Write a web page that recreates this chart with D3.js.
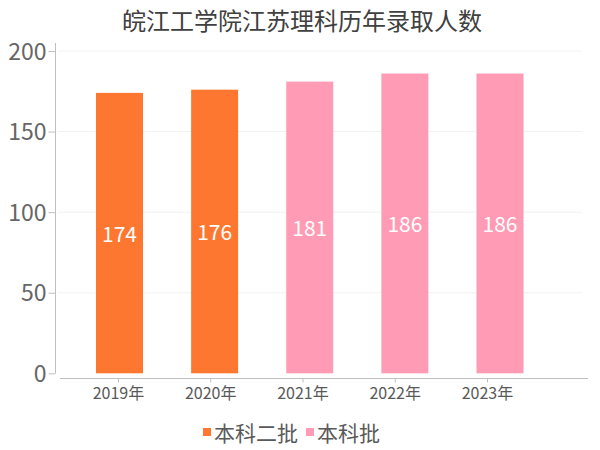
<!DOCTYPE html>
<html><head><meta charset="utf-8">
<script src="https://cdn.jsdelivr.net/npm/d3@7"></script>
<style>body{margin:0;background:#fff}svg{display:block}</style>
</head><body>
<svg id="c" width="600" height="450"></svg>
<script>
const title = "皖江工学院江苏理科历年录取人数";
const years = ["2019年","2020年","2021年","2022年","2023年"];
const batches = ["本科二批","本科二批","本科批","本科批","本科批"];
const values = [174, 176, 181, 186, 186];
const seriesNames = ["本科二批","本科批"];
const seriesColors = ["#FE7731","#FF9BB4"];
const yTicks = [0, 50, 100, 150, 200];

const font = "'Noto Sans CJK SC', 'Noto Sans', sans-serif";
const svg = d3.select("#c");
const color = d3.scaleOrdinal().domain(seriesNames).range(seriesColors);

const y = d3.scaleLinear().domain([0, 200]).range([373.3, 51]);
const xBar = d3.scalePoint().domain(years).range([119.5, 500]);
const xLab = d3.scalePoint().domain(years).range([118, 487]);
const barW = 47;

// title
svg.append("text").attr("x", 302).attr("y", 19).attr("text-anchor", "middle")
  .attr("dominant-baseline", "central").attr("font-family", font)
  .attr("font-size", 24).attr("fill", "#404040").text(title);

// grid
svg.append("g").selectAll("line").data(yTicks.filter(d => d > 0)).join("line")
  .attr("x1", 58).attr("x2", 582).attr("y1", d => y(d)).attr("y2", d => y(d))
  .attr("stroke", "#f2f2f2").attr("stroke-width", 1);

// bars
svg.append("g").selectAll("rect").data(values).join("rect")
  .attr("x", (d, i) => xBar(years[i]) - barW / 2)
  .attr("width", barW)
  .attr("y", d => y(d))
  .attr("height", d => y(0) - y(d))
  .attr("fill", (d, i) => color(batches[i]));

// value labels
svg.append("g").selectAll("text").data(values).join("text")
  .attr("x", (d, i) => xBar(years[i]))
  .attr("y", d => (y(d) + y(0)) / 2)
  .attr("text-anchor", "middle").attr("dominant-baseline", "central")
  .attr("font-family", font).attr("font-size", 21).attr("fill", "#fff")
  .text(d => d);

// y axis
const yAxis = svg.append("g").attr("transform", "translate(55.5,0)")
  .call(d3.axisLeft(y).tickValues(yTicks).tickSize(7).tickPadding(2).tickSizeOuter(0));
yAxis.select(".domain").attr("d", `M0,${43}V${y(0)}`).attr("stroke", "#bfbfbf");
yAxis.selectAll(".tick line").attr("stroke", "#bfbfbf");
yAxis.selectAll(".tick text").attr("font-family", font).attr("font-size", 23)
  .attr("fill", "#666").attr("dy", "0.35em");

// x axis
const xAxis = svg.append("g").attr("transform", "translate(0,378.5)")
  .call(d3.axisBottom(xLab).tickSize(4).tickPadding(5).tickSizeOuter(0));
xAxis.select(".domain").attr("d", "M60,0H588").attr("stroke", "#bfbfbf");
xAxis.selectAll(".tick line").attr("stroke", "#bfbfbf");
xAxis.selectAll(".tick text").attr("font-family", font).attr("font-size", 16)
  .attr("fill", "#595959");

// legend
const legX = [203, 306];
const lg = svg.append("g").selectAll("g").data(seriesNames).join("g")
  .attr("transform", (d, i) => `translate(${legX[i]},432)`);
lg.append("rect").attr("x", 0).attr("y", -4).attr("width", 8).attr("height", 8)
  .attr("fill", d => color(d));
lg.append("text").attr("x", 11).attr("y", 0).attr("dominant-baseline", "central")
  .attr("font-family", font).attr("font-size", 21).attr("fill", "#595959").text(d => d);
</script>
</body></html>
